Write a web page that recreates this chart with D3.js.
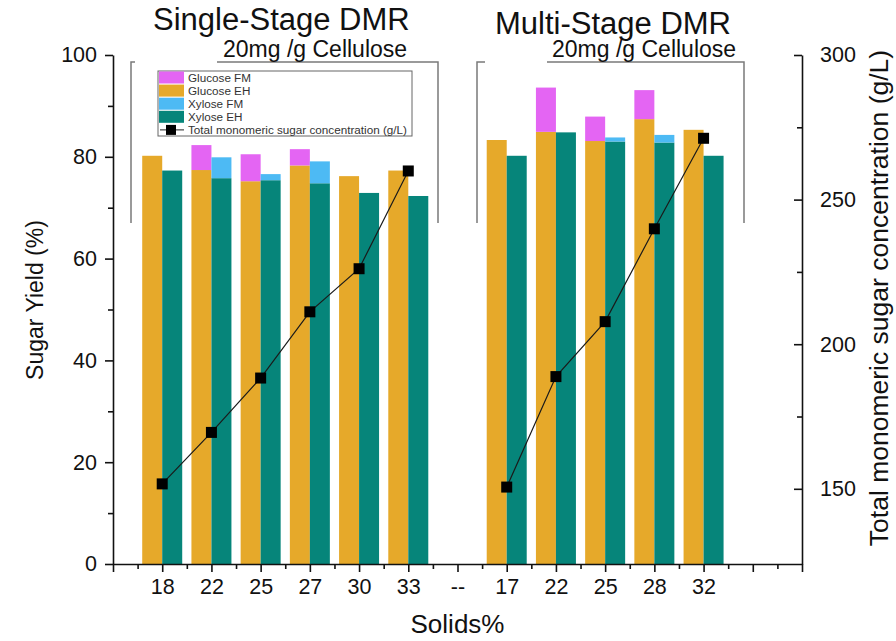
<!DOCTYPE html>
<html>
<head>
<meta charset="utf-8">
<script src="https://cdn.jsdelivr.net/npm/d3@7"></script>
<style>
  html, body { margin: 0; padding: 0; background: #fff; }
  svg { display: block; font-family: "Liberation Sans", Arial, sans-serif; }
</style>
</head>
<body>
<svg id="chart" width="896" height="641"></svg>
<script>
// Solids loading (%) for each run; "--" separates single-stage from multi-stage
const categories = ["18", "22", "25", "27", "30", "33", "--", "17", "22", "25", "28", "32"];

// Sugar yields (%) – FM values are the increments stacked on top of the EH bars
const glucoseEH = [80.2, 77.4, 75.2, 78.3, 76.2, 77.3, null, 83.3, 84.9, 83.1, 87.4, 85.3];
const glucoseFM = [0, 4.9, 5.3, 3.2, 0, 0, null, 0, 8.7, 4.8, 5.7, 0];
const xyloseEH  = [77.3, 75.8, 75.4, 74.8, 72.9, 72.3, null, 80.2, 84.8, 83.0, 82.8, 80.2];
const xyloseFM  = [0, 4.1, 1.2, 4.3, 0, 0, null, 0, 0, 0.8, 1.5, 0];

// Total monomeric sugar concentration (g/L)
const totalSugar = [151.7, 169.5, 188.3, 211.2, 226.1, 259.9, null, 150.6, 188.8, 207.8, 239.9, 271.2];

// Axis tick values
const yieldTicks = [0, 20, 40, 60, 80, 100];
const yieldMinor = [10, 30, 50, 70, 90];
const concTicks = [150, 200, 250, 300];
const concMinor = [175, 225, 275];

const seriesNames = ["Glucose FM", "Glucose EH", "Xylose FM", "Xylose EH"];
const colors = {
  "Glucose FM": "#e465f3",
  "Glucose EH": "#e6a92a",
  "Xylose FM": "#4dbaf4",
  "Xylose EH": "#06857a"
};

const svg = d3.select("#chart");
const plotLeft = 113, plotRight = 802, plotTop = 55, plotBottom = 564;

const x = d3.scaleLinear().domain([0, 14]).range([plotLeft, plotRight]);
const yL = d3.scaleLinear().domain([0, 100]).range([plotBottom, plotTop]);
const yR = d3.scaleLinear().domain([124, 300]).range([plotBottom, plotTop]);
const barW = 20;

const rows = categories.map((c, i) => ({
  i, label: c,
  gEH: glucoseEH[i], gFM: glucoseFM[i],
  xEH: xyloseEH[i], xFM: xyloseFM[i],
  total: totalSugar[i]
})).filter(d => d.gEH !== null);

// Group brackets and their headings
const bracket = svg.append("g").attr("fill", "none").attr("stroke", "#7a7a7a").attr("stroke-width", 1.5);
bracket.append("path").attr("d", "M135,62H131V223");
bracket.append("path").attr("d", "M217,62H438V223");
bracket.append("path").attr("d", "M485,62H477V223");
bracket.append("path").attr("d", "M547,62H744V223");

svg.append("text").attr("x", 153).attr("y", 30).attr("font-size", 31).attr("fill", "#111")
  .text("Single-Stage DMR");
svg.append("text").attr("x", 495).attr("y", 34).attr("font-size", 31).attr("fill", "#111")
  .text("Multi-Stage DMR");
svg.append("text").attr("x", 223).attr("y", 57).attr("font-size", 23).attr("fill", "#111")
  .text("20mg /g Cellulose");
svg.append("text").attr("x", 552).attr("y", 57).attr("font-size", 23).attr("fill", "#111")
  .text("20mg /g Cellulose");

// Bars: glucose on the left of each category, xylose on the right
const bars = svg.append("g");
rows.forEach(d => {
  const cx = x(d.i + 1);
  const stacks = [
    { x0: cx - barW, base: 0, v: d.gEH, name: "Glucose EH" },
    { x0: cx - barW, base: d.gEH, v: d.gFM, name: "Glucose FM" },
    { x0: cx, base: 0, v: d.xEH, name: "Xylose EH" },
    { x0: cx, base: d.xEH, v: d.xFM, name: "Xylose FM" }
  ].filter(s => s.v > 0);
  stacks.forEach(s => {
    bars.append("rect")
      .attr("x", s.x0)
      .attr("width", barW)
      .attr("y", yL(s.base + s.v))
      .attr("height", yL(s.base) - yL(s.base + s.v))
      .attr("fill", colors[s.name]);
  });
});

// Concentration line, one segment per process group
const groups = [rows.filter(d => d.i < 6), rows.filter(d => d.i > 6)];
const line = d3.line().x(d => x(d.i + 1)).y(d => yR(d.total));
groups.forEach(g => {
  svg.append("path").datum(g).attr("d", line)
    .attr("fill", "none").attr("stroke", "#1a1a1a").attr("stroke-width", 1.2);
});
svg.append("g").selectAll("rect").data(rows).join("rect")
  .attr("x", d => x(d.i + 1) - 5.5)
  .attr("y", d => yR(d.total) - 5.5)
  .attr("width", 11).attr("height", 11)
  .attr("fill", "#000");

// Axes
function styleAxis(g, fontSize) {
  g.select(".domain").attr("stroke", "#111").attr("stroke-width", 1.6);
  g.selectAll(".tick line").attr("stroke", "#111").attr("stroke-width", 1.6);
  g.selectAll(".tick text").attr("fill", "#111").attr("font-size", fontSize)
    .attr("font-family", "'Liberation Sans', Arial, sans-serif");
}

const gLeft = svg.append("g").attr("transform", `translate(${plotLeft},0)`)
  .call(d3.axisLeft(yL).tickValues(yieldTicks).tickSize(8).tickPadding(8).tickSizeOuter(0));
styleAxis(gLeft, 21.5);
const gLeftMinor = svg.append("g").attr("transform", `translate(${plotLeft},0)`)
  .call(d3.axisLeft(yL).tickValues(yieldMinor).tickSize(5).tickFormat("").tickSizeOuter(0));
styleAxis(gLeftMinor, 21);
gLeftMinor.select(".domain").remove();

const gRight = svg.append("g").attr("transform", `translate(${plotRight},0)`)
  .call(d3.axisRight(yR).tickValues(concTicks).tickSize(-8).tickPadding(18).tickSizeOuter(0));
styleAxis(gRight, 21.5);
const gRightMinor = svg.append("g").attr("transform", `translate(${plotRight},0)`)
  .call(d3.axisRight(yR).tickValues(concMinor).tickSize(-5).tickFormat("").tickSizeOuter(0));
styleAxis(gRightMinor, 21);
gRightMinor.select(".domain").remove();

const gBottom = svg.append("g").attr("transform", `translate(0,${plotBottom})`)
  .call(d3.axisBottom(x).tickValues(d3.range(0, 15)).tickSize(8).tickPadding(7).tickSizeOuter(0)
    .tickFormat(v => (v >= 1 && v <= categories.length) ? categories[v - 1] : ""));
styleAxis(gBottom, 21.5);
const gBottomMinor = svg.append("g").attr("transform", `translate(0,${plotBottom})`)
  .call(d3.axisBottom(x).tickValues(d3.range(0.5, 14, 1)).tickSize(5).tickFormat("").tickSizeOuter(0));
styleAxis(gBottomMinor, 21);
gBottomMinor.select(".domain").remove();

// Axis titles
svg.append("text").attr("transform", "translate(43,300) rotate(-90)")
  .attr("text-anchor", "middle").attr("font-size", 23).attr("fill", "#111")
  .text("Sugar Yield (%)");
svg.append("text").attr("transform", "translate(888,298) rotate(-90)")
  .attr("text-anchor", "middle").attr("font-size", 26.5).attr("fill", "#111")
  .text("Total monomeric sugar concentration (g/L)");
svg.append("text").attr("x", (plotLeft + plotRight) / 2).attr("y", 633)
  .attr("text-anchor", "middle").attr("font-size", 26).attr("fill", "#111")
  .text("Solids%");

// Legend
const legend = svg.append("g");
legend.append("rect").attr("x", 158).attr("y", 71).attr("width", 254).attr("height", 65)
  .attr("fill", "#fff").attr("stroke", "#666").attr("stroke-width", 1);
seriesNames.forEach((name, k) => {
  const yy = 71 + k * 13.1;
  legend.append("rect").attr("x", 159).attr("y", yy + 0.5).attr("width", 25).attr("height", 12)
    .attr("fill", colors[name]);
  legend.append("text").attr("x", 188).attr("y", yy + 10.5).attr("font-size", 11.7)
    .attr("fill", "#333").text(name);
});
const ly = 71 + 4 * 13.1 + 6.5;
legend.append("line").attr("x1", 160).attr("x2", 184).attr("y1", ly).attr("y2", ly)
  .attr("stroke", "#222").attr("stroke-width", 1);
legend.append("rect").attr("x", 166).attr("y", ly - 5).attr("width", 10).attr("height", 10).attr("fill", "#000");
legend.append("text").attr("x", 188).attr("y", ly + 4).attr("font-size", 11.7)
  .attr("fill", "#333").text("Total monomeric sugar concentration (g/L)");
</script>
</body>
</html>
